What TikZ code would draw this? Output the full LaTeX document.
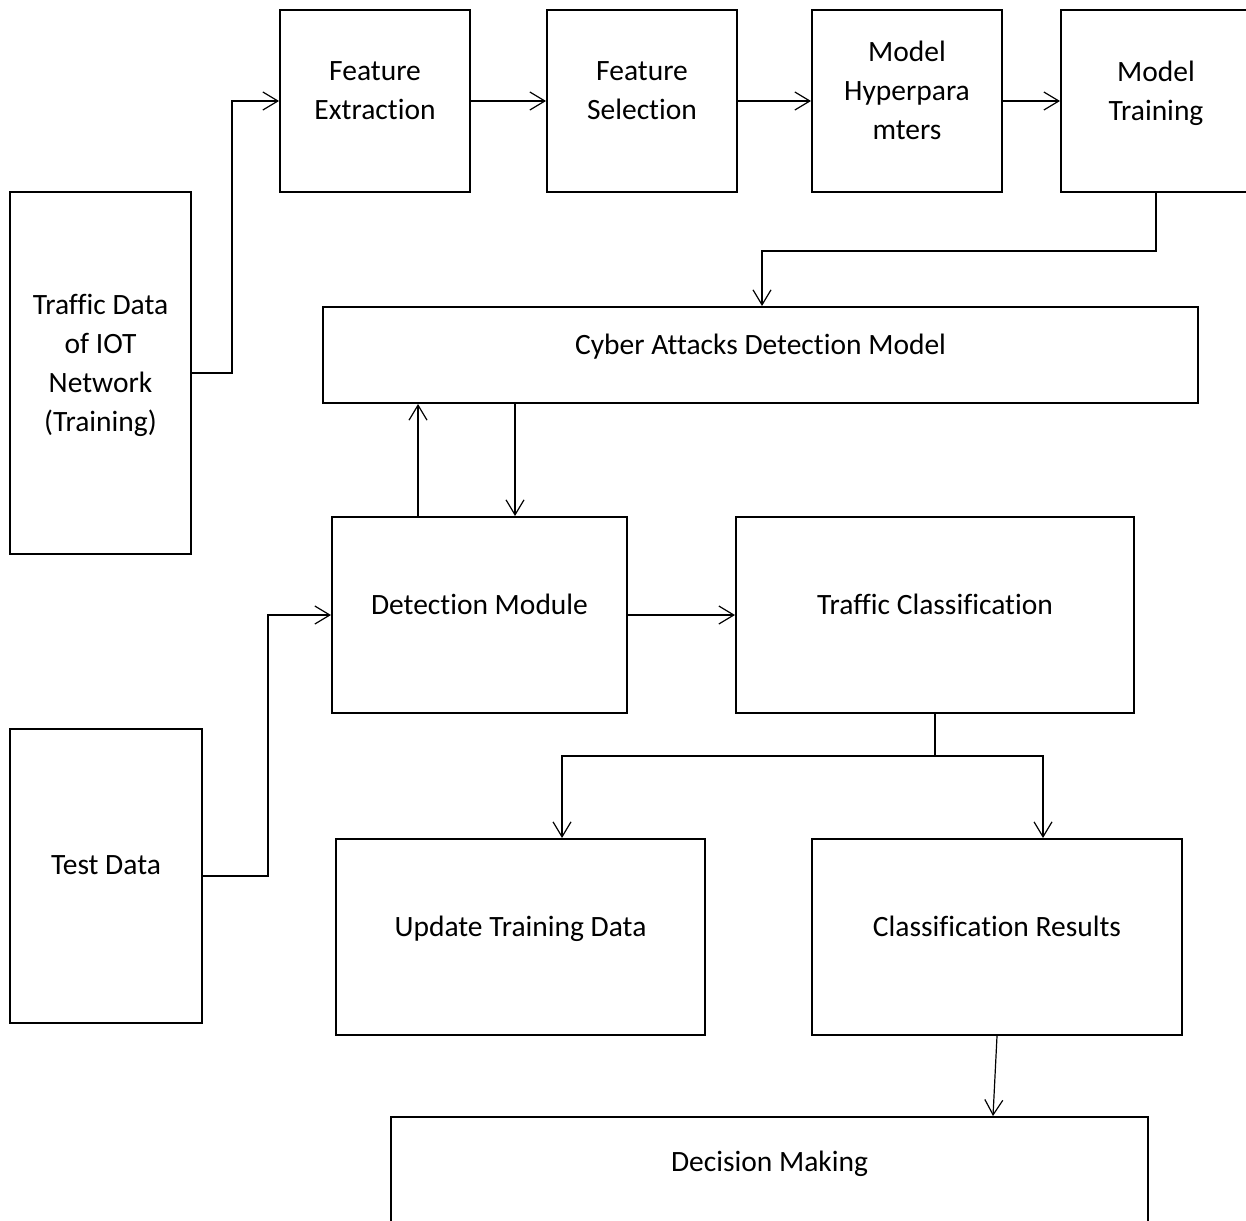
\documentclass[tikz,border=0pt]{standalone}
\usepackage{fontspec}
\setmainfont{Carlito}[Ligatures={NoCommon,NoContextual}]
\usepackage{tikz}
\usetikzlibrary{arrows.meta}
\usetikzlibrary{positioning}
\tikzset{
    block/.style={
        draw,
        rectangle,
        line width=2pt,
        align=center,
        inner sep=0pt,
        text depth=21pt,
        font=\fontsize{29.5}{39}\selectfont
    },
    link/.style={
        draw,
        line width=1.2pt,
        -{Straight Barb[length=15pt, width=18pt, line width=1.2pt]}
    }
}

\begin{document}
\begin{tikzpicture}[x=1pt, y=-1pt]
    \useasboundingbox (0,0) rectangle (1246,1220);
    \clip (0,0) rectangle (1246,1220);

    \node[block, minimum width=181pt, minimum height=362pt] (train) at (100.5,373) {Traffic Data\\of IOT\\Network\\(Training)};
    \node[block, minimum width=190pt, minimum height=182pt] (fext) at (375,101) {Feature\\Extraction};
    \node[block, minimum width=190pt, minimum height=182pt] (fsel) at (642,101) {Feature\\Selection};
    \node[block, minimum width=190pt, minimum height=182pt] (hyper) at (907,101) {Model\\Hyperpara\\mters};
    \node[block, minimum width=190pt, minimum height=182pt] (mtrain) at (1156,101) {Model\\Training};
    \node[block, minimum width=875pt, minimum height=96pt] (cyber) at (760.5,355) {Cyber Attacks Detection Model};
    \node[block, minimum width=295pt, minimum height=196pt] (detect) at (479.5,615) {Detection Module};
    \node[block, minimum width=398pt, minimum height=196pt] (classify) at (935,615) {Traffic Classification};
    \node[block, minimum width=192pt, minimum height=294pt] (test) at (106,876) {Test Data};
    \node[block, minimum width=369pt, minimum height=196pt] (update) at (520.5,937) {Update Training Data};
    \node[block, minimum width=370pt, minimum height=196pt] (results) at (997,937) {Classification Results};
    \node[block, minimum width=757pt, minimum height=110pt] (decide) at (769.5,1172) {Decision Making};

    % training branch
    \draw[link] (train.east) -- ++(40,0) |- (fext.west);
    \draw[link] (fext) -- (fsel);
    \draw[link] (fsel) -- (hyper);
    \draw[link] (hyper) -- (mtrain);
    \draw[link] (mtrain.south) -- ++(0,58) -| ([xshift=1.5pt]cyber.north);

    % detection
    \draw[link] ([xshift=-61.5pt]detect.north) -- ([xshift=-61.5pt]detect.north |- cyber.south);
    \draw[link] ([xshift=35.5pt]detect.north |- cyber.south) -- ([xshift=35.5pt]detect.north);
    \draw[link] (test.east) -- ++(65,0) |- (detect.west);
    \draw[link] (detect) -- (classify);

    % outputs
    \coordinate (split) at ([yshift=-42pt]classify.south);
    \draw[line width=1.2pt] (classify.south) -- (split);
    \draw[link] (split) -| ([xshift=41.5pt]update.north);
    \draw[link] (split) -| ([xshift=46pt]results.north);
    \draw[link] (results.south) -- ([xshift=-4pt]results.south |- decide.north);
\end{tikzpicture}
\end{document}
